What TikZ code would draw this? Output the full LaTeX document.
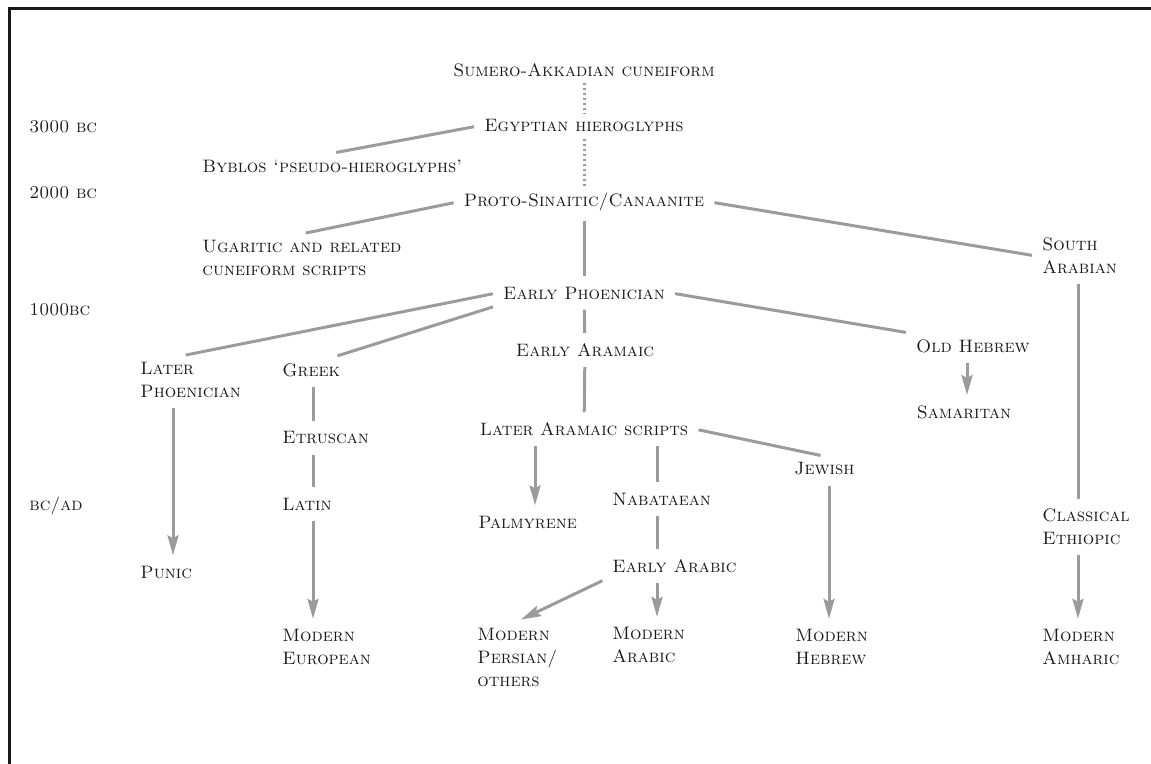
\documentclass[tikz,border=0pt]{standalone}
\usepackage{tikz}
\usetikzlibrary{arrows.meta,positioning}
\definecolor{linegray}{HTML}{9B9B9B}
\definecolor{inkgray}{HTML}{1A1A1A}
\tikzstyle{script} = [font=\fontsize{9}{11.5}\selectfont\scshape, text=inkgray, align=left, inner sep=3pt]
\tikzstyle{era} = [script, anchor=west]
\tikzstyle{link} = [line width=1.5pt, linegray, shorten <=2pt, shorten >=2pt]
\tikzstyle{arrow} = [link, -{Stealth[length=10pt,width=5.5pt,inset=1.5pt]}]
\tikzstyle{dotlink} = [line width=1.5pt, linegray, dash pattern=on 1.2pt off 1.3pt]

\begin{document}
\begin{tikzpicture}[x=0.5pt,y=-0.5pt]
\useasboundingbox (0,0) rectangle (1151,764);
\draw[line width=1.5pt, inkgray] (9,764) -- (9,9) -- (1151,9);

% time scale
\node[era] (d3000) at (23,127) {3000 bc};
\node[era] (d2000) at (23,193) {2000 bc};
\node[era] (d1000) at (23,310) {1000bc};
\node[era] (dbcad) at (23,506) {bc/ad};

% scripts
\node[script] (sumer) at (584,70) {Sumero-Akkadian cuneiform};
\node[script] (egypt) at (584,126) {Egyptian hieroglyphs};
\node[era] (byblos) at (196,166) {Byblos `pseudo-hieroglyphs'};
\node[script] (proto) at (584,202) {Proto-Sinaitic/Canaanite};
\node[era] (ugarit) at (196,258) {Ugaritic and related\\cuneiform scripts};
\node[era] (south) at (1036,256) {South\\Arabian};
\node[script] (ephoen) at (584,293) {Early Phoenician};
\node[script] (earam) at (585,350) {Early Aramaic};
\node[script] (ohebrew) at (973,346) {Old Hebrew};
\node[script] (samar) at (964,412) {Samaritan};
\node[era] (lphoen) at (134,380) {Later\\Phoenician};
\node[era] (greek) at (276,370) {Greek};
\node[era] (etrus) at (276,438) {Etruscan};
\node[era] (latin) at (276,504) {Latin};
\node[era] (punic) at (134,572) {Punic};
\node[era] (meuro) at (276,647) {Modern\\European};
\node[script] (laram) at (584,429) {Later Aramaic scripts};
\node[era] (palm) at (472,522) {Palmyrene};
\node[era] (nabat) at (606,499) {Nabataean};
\node[era] (jewish) at (788,469) {Jewish};
\node[era] (earab) at (606,566) {Early Arabic};
\node[era] (mpers) at (471,657) {Modern\\Persian/\\others};
\node[era] (marab) at (606,645) {Modern\\Arabic};
\node[era] (mhebr) at (789,647) {Modern\\Hebrew};
\node[era] (ceth) at (1036,527) {Classical\\Ethiopic};
\node[era] (mamh) at (1036,647) {Modern\\Amharic};

% columns for the vertical links
\coordinate (colA) at (173,0);
\coordinate (colB) at (313,0);
\coordinate (colC) at (535,0);
\coordinate (colD) at (657,0);
\coordinate (colE) at (829,0);
\coordinate (colF) at (967,0);
\coordinate (colG) at (1078,0);

% links
\draw[dotlink] (sumer) -- (egypt);
\draw[dotlink] (egypt) -- (proto);
\draw[link] (egypt.west) -- (byblos.north);
\draw[link] (proto.west) -- (ugarit.north);
\draw[link] (proto.east) -- (south.west);
\draw[link] (proto) -- (ephoen);
\draw[link] (ephoen.west) -- (lphoen.110);
\draw[link] (ephoen.south west) -- (greek.30);
\draw[link] (ephoen.east) -- (ohebrew.north west);
\draw[link] (ephoen) -- (earam);
\draw[link] (earam) -- (laram);
\draw[arrow] (ohebrew.south -| colF) -- (samar.north -| colF);
\draw[link] (south.south -| colG) -- (ceth.north -| colG);
\draw[arrow] (ceth.south -| colG) -- (mamh.north -| colG);
\draw[arrow] (lphoen.south -| colA) -- (punic.north -| colA);
\draw[link] (greek.south -| colB) -- (etrus.north -| colB);
\draw[link] (etrus.south -| colB) -- (latin.north -| colB);
\draw[arrow] (latin.south -| colB) -- (meuro.north -| colB);
\draw[arrow] (laram.south -| colC) -- (palm.north -| colC);
\draw[link] (laram.south -| colD) -- (nabat.north -| colD);
\draw[link] (laram.east) -- (jewish.north);
\draw[arrow] (jewish.south -| colE) -- (mhebr.north -| colE);
\draw[link] (nabat.south -| colD) -- (earab.north -| colD);
\draw[arrow] (earab.south west) -- (mpers.north);
\draw[arrow] (earab.south -| colD) -- (marab.north -| colD);
\end{tikzpicture}
\end{document}
